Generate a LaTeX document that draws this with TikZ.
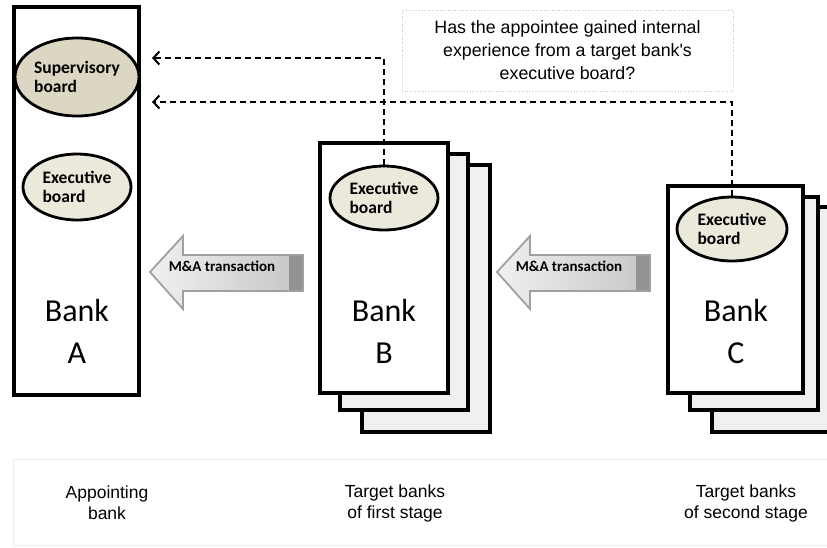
\documentclass[tikz,border=0pt]{standalone}
\usepackage{fontspec}
\setmainfont{Carlito}
\newfontfamily\arialfont{Liberation Sans}
\usepackage{xcolor}
\usetikzlibrary{arrows.meta,shapes.geometric}
\definecolor{tan}{HTML}{DCD7C2}
\definecolor{cream}{HTML}{EBE8DC}
\definecolor{pagegray}{HTML}{F0F0F0}
\definecolor{arrowrim}{HTML}{A0A0A0}

\begin{document}
\begin{tikzpicture}[x=1pt,y=-1pt,
  page/.style={draw=black,line width=3.4pt,fill=white},
  backpage/.style={draw=black,line width=3.4pt,fill=pagegray},
  board/.style={ellipse,draw=black,line width=2.8pt,fill=cream,inner sep=0pt,
    align=left,font=\bfseries\fontsize{17.5}{18.5}\selectfont},
  bankname/.style={align=center,font=\fontsize{32}{42}\selectfont},
  qline/.style={line width=2pt,dash pattern=on 6pt off 4pt,
    -{Straight Barb[length=6pt,width=13pt]}},
  deal/.style={draw=arrowrim,line width=1.8pt,left color=white!88!gray,right color=gray!45},
  dealtext/.style={font=\bfseries\fontsize{15}{16}\selectfont},
  stage/.style={align=center,font=\arialfont\fontsize{17.5}{21}\selectfont}]
  \useasboundingbox (0,0) rectangle (827,547);

  % bank A
  \draw[page] (14,7) rectangle (139,395);
  \node[board,fill=tan,minimum width=124pt,minimum height=78pt] (supA) at (77,77) {Supervisory\\board};
  \node[board,minimum width=108pt,minimum height=66pt] (exA) at (77,187) {Executive\\board};
  \node[bankname] (nameA) at (77,331) {Bank\\A};

  % banks B
  \draw[backpage] (362,165) rectangle (490,432);
  \draw[backpage] (340,154) rectangle (468,410);
  \draw[page] (320,143) rectangle (448,393);
  \node[board,minimum width=108pt,minimum height=64pt] (exB) at (384,198) {Executive\\board};
  \node[bankname] (nameB) at (384,331) {Bank\\B};

  % banks C
  \draw[backpage] (712,207) rectangle (840,432);
  \draw[backpage] (690,197) rectangle (818,410);
  \draw[page] (668,186) rectangle (803,393);
  \node[board,minimum width=110pt,minimum height=64pt] (exC) at (732,229) {Executive\\board};
  \node[bankname] (nameC) at (736,331) {Bank\\C};

  % M&A arrows
  \draw[deal] (150,272) -- (183,236) -- (183,255) -- (303,255) -- (303,291)
    -- (183,291) -- (183,309) -- cycle;
  \fill[gray!85] (289,256) rectangle (302,290);
  \node[dealtext] (dealB) at (222,266) {M\&A transaction};
  \draw[deal] (497,272) -- (530,236) -- (530,255) -- (650,255) -- (650,291)
    -- (530,291) -- (530,309) -- cycle;
  \fill[gray!85] (636,256) rectangle (649,290);
  \node[dealtext] (dealC) at (569,266) {M\&A transaction};

  % question and links
  \node[draw=gray!45,dotted,line width=0.6pt,minimum width=331pt,minimum height=81pt,
    align=center,font=\arialfont\fontsize{17.8}{23}\selectfont] (quest) at (567.5,50.5)
    {Has the appointee gained internal\\experience from a target bank's\\executive board?};
  \coordinate (tipB) at (152,58);
  \coordinate (tipC) at (152,102);
  \draw[qline] (exB.north) |- (tipB);
  \draw[qline] (exC.north) |- (tipC);

  % stages
  \draw[draw=gray!15,line width=1pt] (13,459) rectangle (835,545);
  \node[stage] (stA) at (107,503) {Appointing\\bank};
  \node[stage] (stB) at (395,503) {Target banks\\of first stage};
  \node[stage] (stC) at (746,503) {Target banks\\of second stage};
\end{tikzpicture}
\end{document}
